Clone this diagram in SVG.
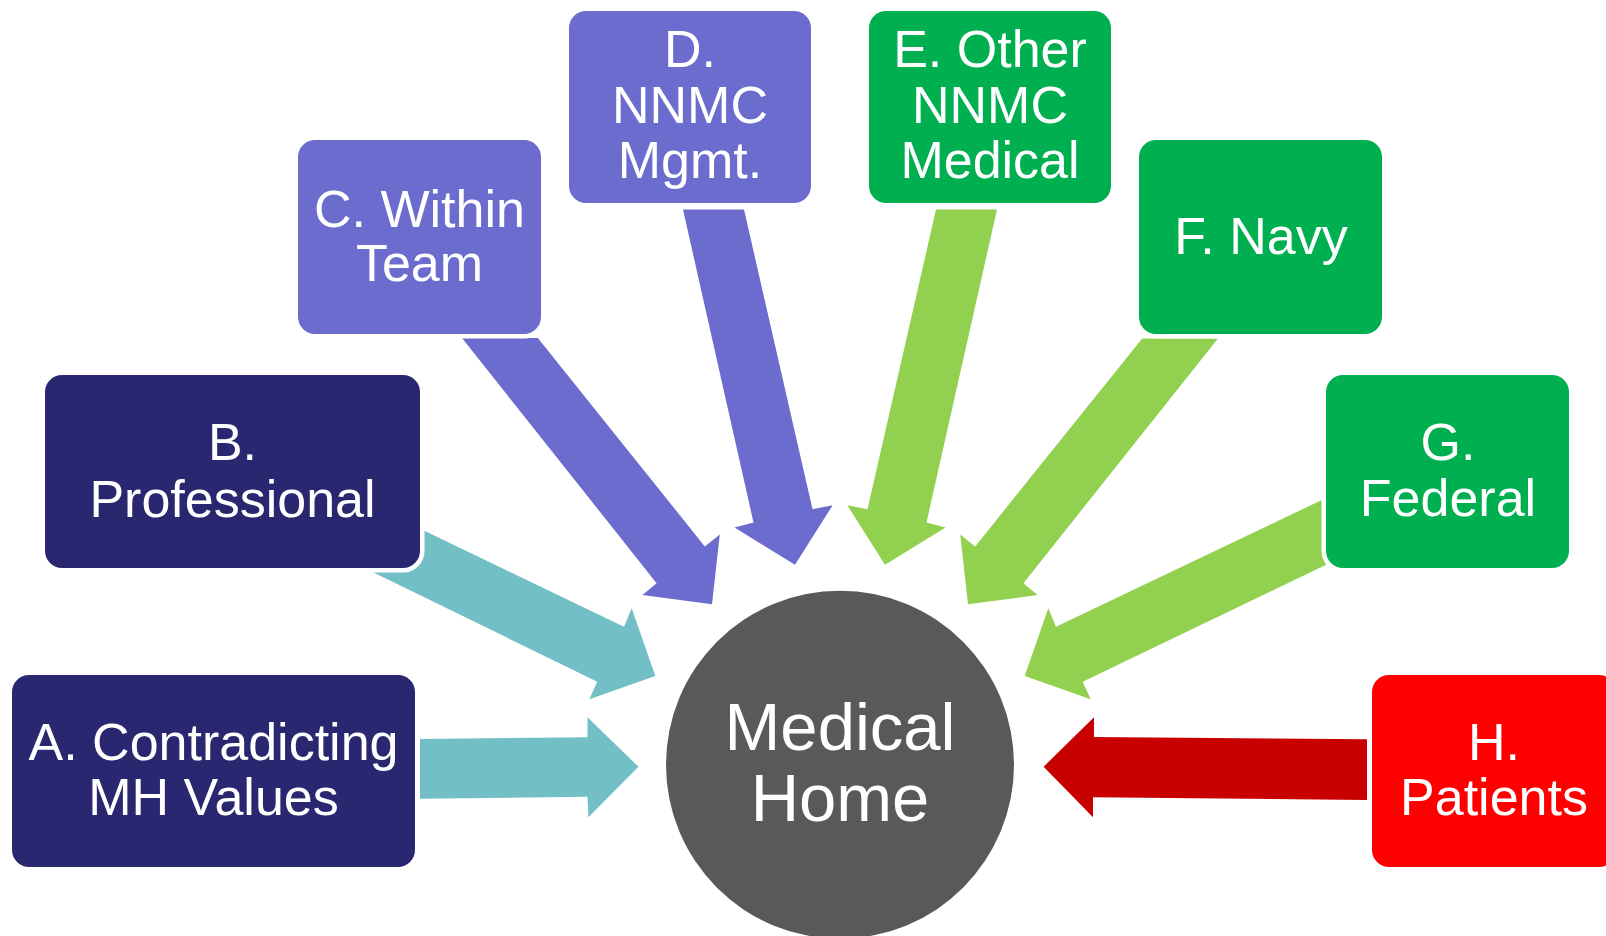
<svg xmlns="http://www.w3.org/2000/svg" width="1606" height="936" viewBox="0 0 1606 936">
  <style>
    .box { stroke: #ffffff; stroke-width: 9; paint-order: stroke; }
    .navy { fill: #29276F; }
    .purple { fill: #6B6CCD; }
    .green { fill: #00AF50; }
    .red { fill: #FF0000; }
    .lbl { fill: #ffffff; font-family: "Liberation Sans", Arial, sans-serif; font-size: 52px; text-anchor: middle; }
    .center { fill: #ffffff; font-family: "Liberation Sans", Arial, sans-serif; font-size: 67px; text-anchor: middle; }
    .teal { fill: #73BFC6; }
    .purpleArrow { fill: #6B6CCD; }
    .lime { fill: #92D050; }
    .darkred { fill: #C80000; }
  </style>
  <rect x="0" y="0" width="1606" height="936" fill="#ffffff"/>

  <g id="connectors">
    <polygon class="teal" points="420,739 587.5,737.3 587.5,717.3 638.4,766.7 588.4,817.3 587.5,796.7 420,798.7"/>
    <polygon class="teal" points="415,526.3 624,626.7 631.7,608.3 655.3,676 589.3,699.3 597.3,681.7 372,571.8"/>
    <polygon class="purpleArrow" points="462,338 537.8,338 704.8,546.4 719.8,534.6 712,604.2 642.4,595.1 656.6,583.2"/>
    <polygon class="purpleArrow" points="683,209.5 744,209.5 812.5,509.3 832.6,505.3 795,564.8 734.5,527.5 753.5,522.5"/>
    <polygon class="lime" points="997,209.5 936,209.5 867.5,509.3 847.4,505.3 885,564.8 945.5,527.5 926.5,522.5"/>
    <polygon class="lime" points="1218,338.5 1142.2,338.5 975.2,546.4 960.2,534.6 968,604.2 1037.6,595.1 1023.4,583.2"/>
    <polygon class="lime" points="1335,493.7 1056,626.7 1048.3,608.3 1024.7,676 1090.7,699.3 1082.7,681.7 1335,560.6"/>
    <polygon class="darkred" points="1367,739.3 1367,800 1093,797.3 1093,817.3 1043.6,766.7 1094,717.3 1094,737"/>
  </g>

  <g id="nodeA">
    <rect class="box navy" x="12" y="675" width="403" height="192" rx="17"/>
    <text class="lbl" x="213.5" y="760">A. Contradicting</text>
    <text class="lbl" x="213.5" y="815">MH Values</text>
  </g>
  <g id="nodeB">
    <rect class="box navy" x="45" y="375" width="375" height="193" rx="17"/>
    <text class="lbl" x="232.5" y="460">B.</text>
    <text class="lbl" x="232.5" y="516.7">Professional</text>
  </g>
  <g id="nodeC">
    <rect class="box purple" x="298" y="140" width="243" height="194" rx="17"/>
    <text class="lbl" x="419.5" y="227.4">C. Within</text>
    <text class="lbl" x="419.5" y="280.7">Team</text>
  </g>
  <g id="nodeD">
    <rect class="box purple" x="569" y="11" width="242" height="192" rx="17"/>
    <text class="lbl" x="690" y="66.5">D.</text>
    <text class="lbl" x="690" y="122.5">NNMC</text>
    <text class="lbl" x="690" y="178">Mgmt.</text>
  </g>
  <g id="nodeE">
    <rect class="box green" x="869" y="11" width="242" height="192" rx="17"/>
    <text class="lbl" x="990" y="66.5">E. Other</text>
    <text class="lbl" x="990" y="122.5">NNMC</text>
    <text class="lbl" x="990" y="178">Medical</text>
  </g>
  <g id="nodeF">
    <rect class="box green" x="1139" y="140" width="243" height="194" rx="17"/>
    <text class="lbl" x="1261" y="253.5">F. Navy</text>
  </g>
  <g id="nodeG">
    <rect class="box green" x="1326" y="375" width="243" height="193" rx="17"/>
    <text class="lbl" x="1448" y="460">G.</text>
    <text class="lbl" x="1448" y="515.7">Federal</text>
  </g>
  <g id="nodeH">
    <rect class="box red" x="1372" y="675" width="244" height="192" rx="17"/>
    <text class="lbl" x="1494" y="760">H.</text>
    <text class="lbl" x="1494" y="815">Patients</text>
  </g>
  <g id="nodeCenter">
    <circle cx="840" cy="764.7" r="174" fill="#595959"/>
    <text class="center" x="840" y="750">Medical</text>
    <text class="center" x="840" y="820.7">Home</text>
  </g>
</svg>
